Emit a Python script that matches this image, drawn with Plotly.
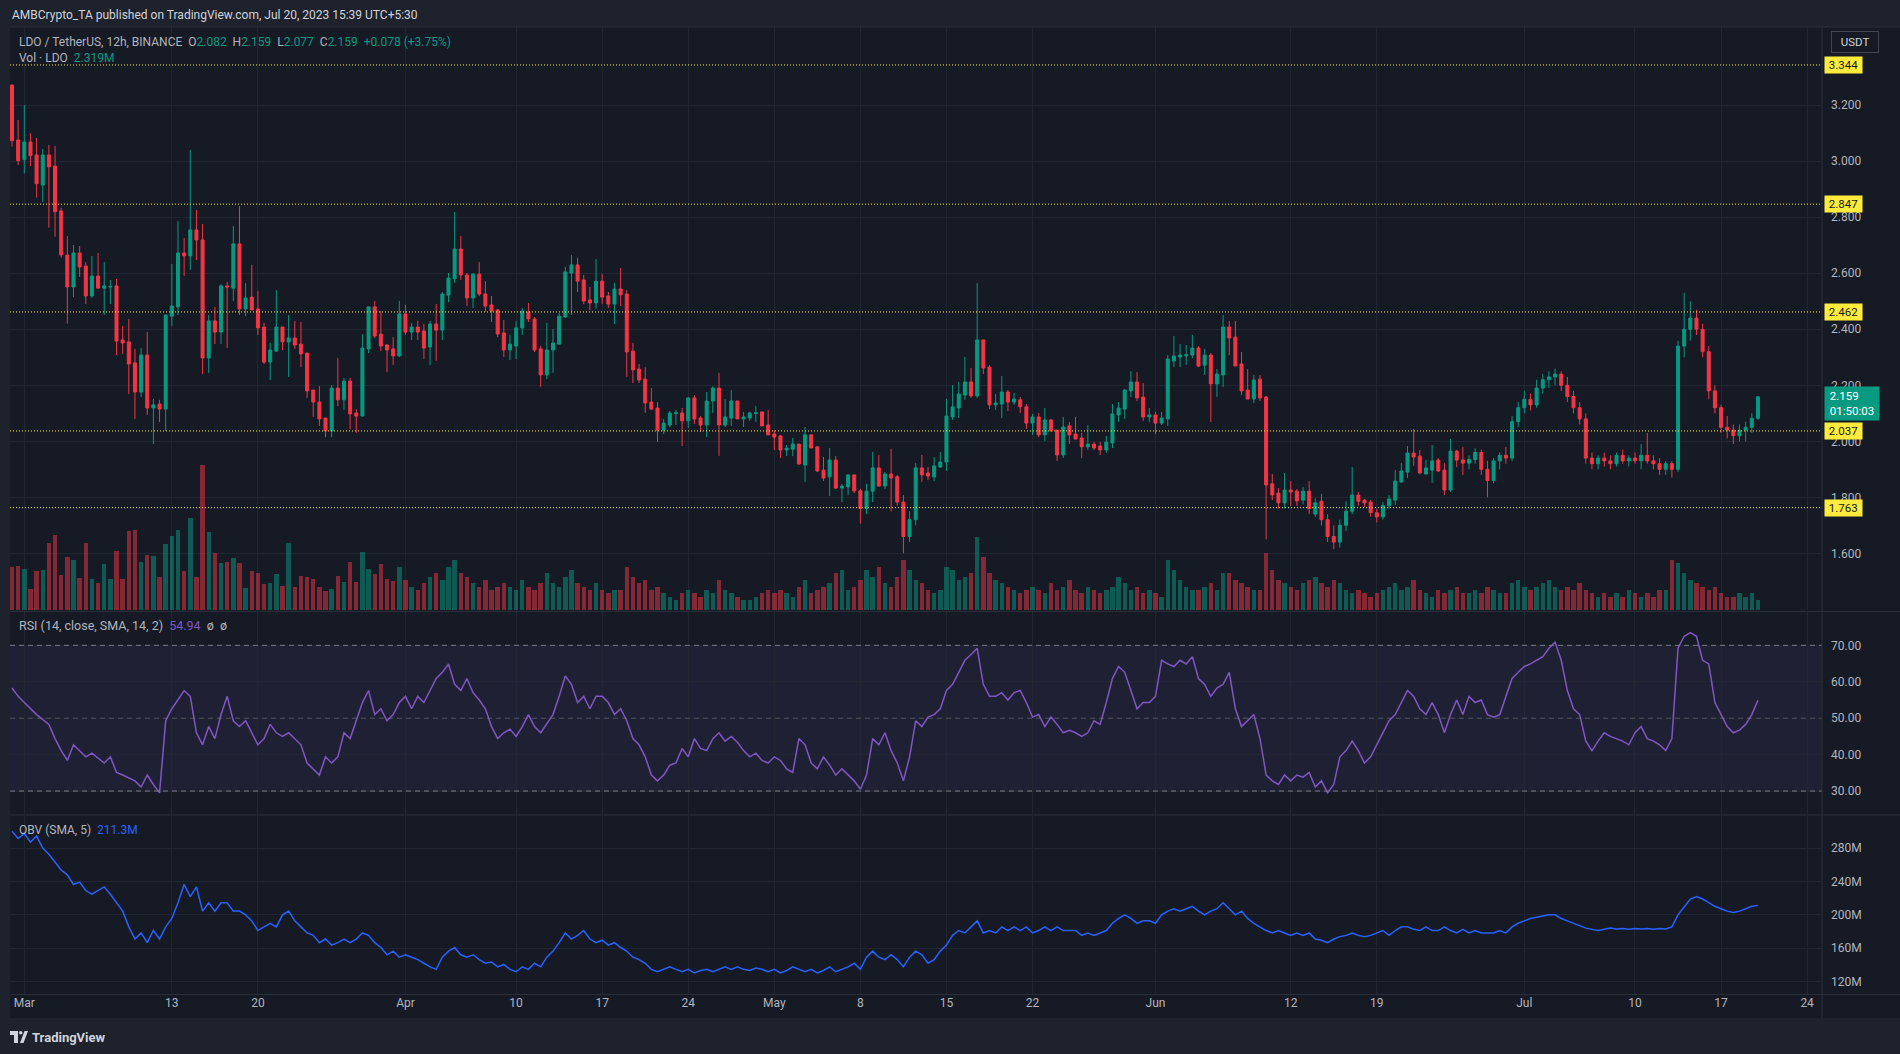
import plotly.graph_objects as go
import pandas as pd

W, H = 1900, 1054

# ---------------- DATA ----------------
times = pd.date_range("2023-02-28 00:00", periods=285, freq="12h")

open_ = [3.2725,3.076,3.006,3.069,3.0225,2.915,3.0225,2.983,2.8225,2.665,
2.551,2.6725,2.626,2.519,2.590,2.547,2.551,2.555,2.362,2.355,
2.280,2.176,2.308,2.119,2.133,2.115,2.447,2.480,2.6725,2.662,
2.755,2.719,2.2975,2.430,2.390,2.555,2.547,2.705,2.4725,2.515,
2.4725,2.408,2.283,2.322,2.408,2.355,2.369,2.347,2.315,2.183,
2.140,2.083,2.037,2.190,2.148,2.215,2.101,2.090,2.330,2.480,
2.383,2.344,2.330,2.305,2.455,2.390,2.408,2.394,2.337,2.419,
2.397,2.522,2.580,2.687,2.594,2.512,2.597,2.526,2.487,2.469,
2.387,2.326,2.340,2.405,2.462,2.437,2.330,2.237,2.326,2.347,
2.444,2.601,2.630,2.576,2.505,2.494,2.572,2.519,2.490,2.544,
2.526,2.322,2.258,2.222,2.140,2.119,2.040,2.058,2.099,2.101,
2.073,2.155,2.083,2.058,2.144,2.190,2.058,2.083,2.144,2.080,
2.083,2.099,2.105,2.058,2.026,2.019,1.969,1.972,1.990,1.915,
2.023,1.980,1.897,1.873,1.933,1.833,1.837,1.880,1.823,1.760,
1.822,1.905,1.840,1.883,1.873,1.783,1.66,1.72,1.905,1.887,
1.873,1.908,1.926,2.087,2.119,2.165,2.212,2.162,2.362,2.265,
2.130,2.133,2.176,2.140,2.148,2.123,2.065,2.087,2.023,2.076,
2.040,1.951,2.055,2.026,2.012,1.980,1.990,1.983,1.969,1.994,
2.094,2.115,2.180,2.212,2.158,2.087,2.094,2.065,2.080,2.287,
2.301,2.305,2.308,2.333,2.272,2.308,2.205,2.237,2.408,2.372,
2.276,2.183,2.151,2.222,2.158,1.848,1.815,1.780,1.826,1.822,
1.790,1.822,1.74,1.786,1.72,1.66,1.64,1.70,1.75,1.808,
1.790,1.783,1.745,1.73,1.77,1.790,1.855,1.890,1.958,1.947,
1.883,1.897,1.933,1.897,1.826,1.965,1.933,1.922,1.935,1.96,
1.90,1.86,1.93,1.95,1.94,2.07,2.12,2.15,2.13,2.19,
2.22,2.23,2.24,2.20,2.16,2.12,2.08,1.94,1.92,1.94,
1.93,1.92,1.95,1.93,1.94,1.93,1.95,1.93,1.92,1.90,
1.92,1.90,2.34,2.40,2.44,2.40,2.32,2.18,2.12,2.05,
2.04,2.02,2.04,2.05,2.082]

high = [3.2725,3.1475,3.201,3.101,3.083,3.044,3.058,3.055,2.834,2.733,
2.701,2.6975,2.640,2.662,2.6725,2.640,2.576,2.580,2.412,2.437,
2.330,2.333,2.390,2.151,2.148,2.451,2.633,2.787,2.726,3.040,
2.826,2.776,2.451,2.480,2.562,2.569,2.769,2.840,2.565,2.630,
2.537,2.423,2.351,2.540,2.408,2.451,2.430,2.426,2.315,2.183,
2.197,2.083,2.201,2.297,2.226,2.226,2.115,2.383,2.480,2.501,
2.465,2.347,2.372,2.501,2.487,2.423,2.430,2.419,2.430,2.490,
2.533,2.601,2.819,2.733,2.601,2.601,2.640,2.572,2.519,2.4725,
2.433,2.380,2.430,2.476,2.494,2.444,2.340,2.423,2.401,2.458,
2.623,2.665,2.655,2.594,2.551,2.651,2.597,2.533,2.565,2.619,
2.540,2.351,2.276,2.265,2.190,2.140,2.080,2.108,2.112,2.119,
2.158,2.165,2.090,2.176,2.197,2.244,2.151,2.183,2.144,2.105,
2.105,2.126,2.105,2.112,2.040,2.023,1.987,2.012,1.990,2.051,
2.023,1.983,1.944,1.976,1.947,1.848,1.880,1.880,1.830,1.848,
1.962,1.951,1.890,1.973,1.880,1.808,1.75,1.922,1.951,1.908,
1.944,1.962,2.151,2.201,2.212,2.301,2.262,2.565,2.362,2.272,
2.169,2.233,2.183,2.172,2.158,2.133,2.098,2.101,2.119,2.080,
2.040,2.087,2.069,2.087,2.030,2.058,1.997,1.997,2.019,2.133,
2.140,2.187,2.251,2.247,2.208,2.119,2.105,2.105,2.308,2.376,
2.347,2.344,2.380,2.340,2.330,2.315,2.258,2.451,2.430,2.430,
2.319,2.258,2.237,2.237,2.162,1.883,1.833,1.887,1.858,1.830,
1.837,1.858,1.797,1.812,1.74,1.70,1.72,1.786,1.908,1.819,
1.794,1.79,1.76,1.783,1.808,1.897,1.922,1.983,2.044,1.969,
1.933,1.987,1.940,1.922,2.008,1.969,1.980,1.95,1.975,1.97,
1.93,1.94,1.96,1.98,2.09,2.14,2.18,2.17,2.22,2.24,
2.25,2.26,2.25,2.23,2.18,2.14,2.10,1.96,1.95,1.96,
1.95,1.96,1.97,1.95,1.96,1.99,2.03,1.95,1.94,1.93,
1.93,2.36,2.53,2.50,2.47,2.42,2.34,2.20,2.13,2.09,
2.06,2.06,2.07,2.10,2.159]

low = [3.0523,2.9868,2.956,2.983,2.870,2.855,2.763,2.731,2.656,2.420,
2.515,2.587,2.490,2.512,2.547,2.451,2.490,2.308,2.312,2.169,
2.080,2.158,2.094,1.990,2.069,2.037,2.412,2.451,2.590,2.612,
2.647,2.240,2.244,2.347,2.347,2.333,2.501,2.451,2.447,2.469,
2.380,2.276,2.219,2.322,2.326,2.230,2.330,2.265,2.155,2.087,
2.055,2.015,2.015,2.126,2.112,2.044,2.030,2.090,2.315,2.369,
2.322,2.247,2.272,2.301,2.380,2.362,2.362,2.294,2.272,2.287,
2.362,2.497,2.565,2.576,2.483,2.476,2.519,2.462,2.426,2.372,
2.301,2.290,2.294,2.380,2.426,2.319,2.194,2.222,2.244,2.347,
2.440,2.451,2.533,2.490,2.469,2.473,2.490,2.476,2.419,2.483,
2.230,2.208,2.208,2.101,2.112,1.998,2.026,2.051,2.058,1.983,
2.048,2.062,2.033,2.015,2.101,1.948,2.051,2.055,2.080,2.051,
2.073,2.069,2.055,2.023,1.969,1.940,1.947,1.947,1.915,1.855,
1.976,1.890,1.858,1.805,1.830,1.783,1.808,1.815,1.706,1.74,
1.783,1.840,1.830,1.75,1.77,1.60,1.64,1.70,1.855,1.862,
1.858,1.905,1.894,2.076,2.083,2.148,2.155,2.155,2.240,2.115,
2.112,2.083,2.108,2.130,2.101,2.044,2.023,2.015,2.001,2.037,
1.930,1.940,1.990,2.008,1.940,1.969,1.969,1.951,1.958,1.976,
2.069,2.080,2.158,2.144,2.073,2.069,2.026,2.058,2.055,2.265,
2.265,2.273,2.297,2.265,2.237,2.069,2.158,2.194,2.308,2.269,
2.165,2.151,2.137,2.144,1.65,1.790,1.76,1.76,1.77,1.77,
1.775,1.74,1.73,1.70,1.64,1.615,1.62,1.68,1.74,1.77,
1.765,1.73,1.71,1.72,1.76,1.772,1.851,1.869,1.912,1.883,
1.883,1.851,1.890,1.808,1.819,1.908,1.880,1.90,1.92,1.88,
1.80,1.85,1.90,1.92,1.93,2.05,2.10,2.11,2.12,2.17,
2.19,2.20,2.18,2.14,2.10,2.06,1.92,1.90,1.90,1.91,
1.90,1.91,1.92,1.91,1.92,1.90,1.92,1.90,1.88,1.88,
1.87,1.89,2.30,2.36,2.38,2.30,2.15,2.10,2.03,2.01,
1.99,2.00,2.00,2.03,2.077]

close = [3.0737,3.0023,3.069,3.020,2.920,3.0225,2.980,2.820,2.6654,2.551,
2.6725,2.6225,2.519,2.590,2.547,2.555,2.553,2.358,2.351,2.276,
2.176,2.308,2.119,2.130,2.115,2.451,2.483,2.6725,2.662,2.755,
2.719,2.2975,2.430,2.390,2.555,2.551,2.705,2.4725,2.512,2.469,
2.405,2.283,2.326,2.408,2.355,2.369,2.344,2.312,2.180,2.140,
2.080,2.037,2.190,2.148,2.215,2.098,2.090,2.333,2.480,2.376,
2.340,2.326,2.305,2.455,2.390,2.408,2.390,2.333,2.419,2.397,
2.526,2.583,2.687,2.594,2.512,2.597,2.526,2.483,2.465,2.383,
2.326,2.347,2.405,2.465,2.437,2.326,2.237,2.326,2.351,2.447,
2.605,2.630,2.572,2.501,2.494,2.572,2.515,2.490,2.544,2.523,
2.319,2.255,2.219,2.137,2.115,2.040,2.065,2.101,2.102,2.073,
2.155,2.080,2.058,2.144,2.190,2.058,2.087,2.144,2.080,2.087,
2.101,2.102,2.055,2.023,2.015,1.969,1.976,1.990,1.919,2.023,
1.976,1.894,1.869,1.933,1.833,1.840,1.880,1.823,1.760,1.822,
1.905,1.840,1.883,1.869,1.783,1.66,1.72,1.905,1.880,1.876,
1.912,1.926,2.090,2.123,2.169,2.212,2.162,2.362,2.262,2.130,
2.137,2.176,2.140,2.151,2.123,2.065,2.087,2.023,2.076,2.037,
1.951,2.051,2.023,2.008,1.980,1.990,1.976,1.969,1.997,2.098,
2.119,2.183,2.212,2.155,2.087,2.094,2.065,2.083,2.294,2.305,
2.308,2.309,2.333,2.269,2.308,2.205,2.240,2.408,2.369,2.269,
2.180,2.151,2.219,2.155,1.844,1.808,1.780,1.826,1.819,1.787,
1.822,1.76,1.78,1.72,1.66,1.64,1.70,1.75,1.808,1.786,
1.780,1.745,1.73,1.77,1.794,1.858,1.894,1.958,1.944,1.887,
1.905,1.930,1.894,1.826,1.965,1.933,1.922,1.935,1.96,1.90,
1.86,1.93,1.95,1.94,2.07,2.12,2.15,2.13,2.19,2.22,
2.23,2.24,2.20,2.16,2.12,2.08,1.94,1.92,1.94,1.93,
1.92,1.95,1.93,1.94,1.93,1.95,1.93,1.92,1.90,1.92,
1.90,2.34,2.40,2.44,2.40,2.32,2.18,2.12,2.05,2.04,
2.02,2.04,2.05,2.082,2.159]

# volume in millions of LDO (approximate readings)
volume = [v * 0.09 for v in [
129,132,123,63,117,120,201,225,105,159,150,96,201,93,81,138,93,177,93,237,
240,144,165,162,99,198,222,240,117,276,99,435,234,171,141,144,156,141,66,117,
111,78,81,108,72,201,69,102,99,93,69,57,63,102,84,144,84,174,123,108,138,93,87,129,
90,70,60,80,100,110,90,130,150,110,
100,80,70,90,60,70,80,70,60,90,70,60,80,110,80,70,100,120,80,70,60,80,60,50,60,60,
130,100,80,90,60,70,50,40,30,50,60,50,40,60,50,90,60,50,40,30,30,40,50,60,50,60,50,40,70,90,50,
60,70,80,110,120,60,70,90,120,100,130,80,70,100,150,120,90,80,60,50,60,130,120,90,100,110,220,160,110,90,
80,70,60,50,60,70,60,50,80,60,70,90,60,50,70,60,50,60,70,100,80,60,70,50,60,50,40,150,120,90,70,60,60,70,80,60,110,110,90,80,70,60,60,170,
120,90,80,70,60,80,90,100,80,70,90,80,60,50,60,50,40,50,60,70,80,60,70,90,60,50,40,60,50,60,70,50,
50,60,50,70,60,50,50,80,90,70,60,70,80,90,70,60,70,60,80,60,50,40,50,40,50,40,60,50,40,50,
40,60,60,150,140,110,90,80,70,60,70,50,40,40,50,40,50,30]]

# RSI(14) per candle, None where not read
rsi = [58.3,56.0,54.3,None,51.0,None,48.3,44.4,41.1,38.4,
42.7,None,39.4,40.4,None,37.7,39.4,35.1,34.4,None,
32.8,31.1,34.4,31.8,29.5,49.3,52.6,None,57.6,56.0,
46.0,42.7,47.7,44.4,51.0,56.0,49.3,47.7,49.3,46.0,
42.7,44.4,48.3,46.0,45.0,46.0,None,42.7,37.7,None,
34.4,39.4,37.7,39.4,46.0,44.4,None,54.3,57.6,51.0,
52.6,49.3,51.0,54.3,56.0,52.6,56.0,54.3,57.6,60.9,
62.6,64.9,59.3,57.6,60.9,57.0,55.0,52.6,47.7,44.4,
46.0,47.0,45.0,47.7,51.0,47.7,46.0,None,51.0,56.0,
61.6,59.3,54.3,56.0,52.6,56.0,56.0,54.3,51.0,52.6,
49.3,44.4,42.7,39.4,34.4,32.8,34.4,37.1,37.7,41.7,
39.4,44.4,41.7,41.1,44.4,46.0,43.7,45.0,43.4,41.1,
39.4,40.4,38.4,37.7,39.4,38.4,36.1,35.1,44.4,42.7,
37.7,36.1,39.4,37.1,34.4,36.1,34.4,32.8,30.5,34.4,
44.4,42.7,46.0,41.1,37.7,32.8,39.4,49.3,47.7,50.3,
51.0,52.6,57.6,59.3,62.6,65.9,67.5,69.2,59.3,56.0,
56.0,57.0,55.0,57.0,57.6,54.3,50.3,51.0,47.7,50.3,
48.3,46.0,46.7,46.0,45.0,46.0,49.3,48.3,54.3,60.9,
64.2,62.6,57.6,52.6,54.3,54.3,56.0,65.9,64.9,64.2,
65.9,64.9,66.9,60.9,59.3,56.0,58.3,59.3,62.6,52.6,
47.7,49.3,51.0,44.4,34.4,32.8,31.8,34.4,32.8,34.4,
33.8,35.1,31.1,32.8,29.5,31.8,39.4,41.1,43.7,41.1,
37.7,39.4,42.7,46.0,49.3,51.0,54.3,57.6,56.0,52.6,
51.0,54.3,51.0,46.0,51.0,55.0,51.0,56.0,54.3,55.0,
51.0,50.3,51.0,56.0,60.9,62.6,64.2,64.9,65.9,66.9,
69.2,70.9,65.9,57.6,52.6,51.0,43.7,41.1,43.7,46.0,
45.0,44.4,43.7,42.7,46.0,47.7,44.4,43.7,42.7,41.1,
44.4,69.2,72.5,73.5,72.5,65.9,64.9,54.3,51.0,47.7,
46.0,46.7,48.3,51.0,54.94]

# OBV (SMA 5), millions
obv = [300.4,291.6,297.5,287.3,294.5,280.0,272.7,262.5,253.8,248.0,
236.4,239.3,229.1,224.7,229.1,233.5,224.7,214.5,204.4,185.5,
170.9,178.2,166.5,181.1,170.9,185.5,195.6,214.5,236.4,221.8,
233.5,204.4,214.5,204.4,214.5,214.5,204.4,204.4,200.0,192.7,
181.1,185.5,189.8,185.5,200.0,204.4,192.7,185.5,178.2,175.3,
166.5,170.9,163.6,166.5,170.9,166.5,170.9,178.2,175.3,166.5,
160.7,152.0,156.4,149.1,152.0,149.1,146.2,141.8,137.5,134.5,
149.1,156.4,160.7,152.0,149.1,152.0,146.2,141.8,143.3,137.5,
140.4,134.5,131.6,137.5,134.5,141.8,137.5,149.1,156.4,166.5,
178.2,170.9,175.3,181.1,170.9,166.5,169.5,163.6,166.5,160.7,
156.4,149.1,146.2,141.8,134.5,131.6,134.5,137.5,134.5,131.6,
134.5,130.2,133.1,134.5,131.6,134.5,137.5,134.5,137.5,134.5,
133.1,136.0,134.5,131.6,134.5,130.2,133.1,137.5,134.5,131.6,
134.5,130.2,133.1,137.5,131.6,134.5,137.5,141.8,134.5,149.1,
156.4,149.1,146.2,152.0,146.2,137.5,149.1,156.4,152.0,141.8,
146.2,156.4,163.6,175.3,181.1,178.2,185.5,192.7,178.2,181.1,
178.2,185.5,181.1,185.5,181.1,185.5,178.2,181.1,185.5,181.1,
185.5,181.1,181.1,181.1,175.3,178.2,175.3,178.2,181.1,189.8,
195.6,200.0,195.6,189.8,192.7,192.7,189.8,200.0,204.4,207.3,
204.4,207.3,210.2,204.4,200.0,204.4,207.3,214.5,207.3,200.0,
204.4,195.6,189.8,185.5,181.1,178.2,181.1,178.2,175.3,178.2,
175.3,178.2,170.9,169.5,166.5,170.9,173.8,175.3,178.2,175.3,
173.8,175.3,178.2,181.1,175.3,181.1,185.5,185.5,182.5,181.1,
185.5,181.1,181.1,185.5,181.1,178.2,182.5,178.2,181.1,178.2,
178.2,178.2,181.1,178.2,185.5,189.8,192.7,195.6,197.1,198.5,
200.0,200.0,195.6,192.7,189.8,186.9,184.0,182.5,181.1,182.5,
184.0,183.0,183.5,182.5,183.5,183.0,183.5,182.5,183.5,183.0,
185.5,200.0,210.2,218.9,221.8,218.9,214.5,210.2,207.3,204.4,
202.9,204.4,207.3,210.2,211.3]

levels = [3.344, 2.847, 2.462, 2.037, 1.763]
price_ticks = [1.6, 1.8, 2.0, 2.2, 2.4, 2.6, 2.8, 3.0, 3.2]
rsi_ticks = [30, 40, 50, 60, 70]
obv_ticks = [120, 160, 200, 240, 280]
date_ticks = ["2023-03-01","2023-03-13","2023-03-20","2023-04-01","2023-04-10","2023-04-17","2023-04-24",
              "2023-05-01","2023-05-08","2023-05-15","2023-05-22","2023-06-01","2023-06-12","2023-06-19",
              "2023-07-01","2023-07-10","2023-07-17","2023-07-24"]
date_labels = ["Mar","13","20","Apr","10","17","24","May","8","15","22","Jun","12","19","Jul","10","17","24"]

assert len(open_) == len(high) == len(low) == len(close) == len(volume) == len(times) == 285
assert len(rsi) == 285 and len(obv) == 285

# ---------------- STYLE ----------------
BG = "#161a25"
FRAME = "#1e222d"
GRID = "#222633"
SEP = "#2a2e39"
TXT = "#b2b5be"
UP = "#089981"
DN = "#f23645"
YEL = "#ffeb3b"
FONT = "Roboto"

def py(y):
    return 1 - y / H

def px(x):
    return x / W

XL, XR = px(10), px(1822)
xrange_ = ["2023-02-27 20:05", "2023-07-25 05:02"]

fig = go.Figure()

vol_colors = ["rgba(8,153,129,0.5)" if c >= o else "rgba(242,54,69,0.5)" for o, c in zip(open_, close)]
fig.add_trace(go.Bar(x=times, y=volume, marker=dict(color=vol_colors, line=dict(width=0)),
                     width=12 * 3600 * 1000 * 0.72, xaxis="x", yaxis="y", hoverinfo="skip"))

fig.add_trace(go.Candlestick(x=times, open=open_, high=high, low=low, close=close,
                             increasing=dict(line=dict(color=UP, width=1), fillcolor=UP),
                             decreasing=dict(line=dict(color=DN, width=1), fillcolor=DN),
                             whiskerwidth=0, xaxis="x", yaxis="y2", hoverinfo="skip"))

fig.add_trace(go.Scatter(x=times, y=rsi, mode="lines", connectgaps=True,
                         line=dict(color="#7e57c2", width=1.5), xaxis="x2", yaxis="y3", hoverinfo="skip"))

fig.add_trace(go.Scatter(x=times, y=obv, mode="lines",
                         line=dict(color="#2962ff", width=1.5), xaxis="x3", yaxis="y4", hoverinfo="skip"))

xcommon = dict(domain=[XL, XR], range=xrange_, type="date", tickvals=date_ticks, ticktext=date_labels,
               showgrid=True, gridcolor=GRID, gridwidth=1, zeroline=False, showline=False, ticks="",
               fixedrange=True)
ycommon = dict(side="right", anchor="free", position=XR, showgrid=True, gridcolor=GRID, gridwidth=1,
               zeroline=False, showline=False, ticks="", tickfont=dict(size=12, color=TXT, family=FONT),
               ticklabelstandoff=8, fixedrange=True)

fig.update_layout(
    width=W, height=H, margin=dict(l=0, r=0, t=0, b=0),
    paper_bgcolor=FRAME, plot_bgcolor="rgba(0,0,0,0)",
    showlegend=False, hovermode=False, bargap=0,
    font=dict(family=FONT, color=TXT, size=12),
    xaxis=dict(xcommon, anchor="y", showticklabels=False, rangeslider=dict(visible=False)),
    xaxis2=dict(xcommon, anchor="y3", showticklabels=False, matches="x"),
    xaxis3=dict(xcommon, anchor="y4", showticklabels=True, matches="x",
                tickfont=dict(size=12, color=TXT, family=FONT)),
    yaxis=dict(domain=[py(610), py(27)], range=[0, 157.4], visible=False, fixedrange=True),
    yaxis2=dict(ycommon, overlaying="y", range=[1.3975, 3.4796], tickvals=price_ticks,
                ticktext=[f"{v:.3f}" for v in price_ticks]),
    yaxis3=dict(ycommon, domain=[py(814), py(612)], range=[23.70, 79.16], tickvals=rsi_ticks,
                ticktext=[f"{v:.2f}" for v in rsi_ticks]),
    yaxis4=dict(ycommon, domain=[py(994), py(816)], range=[104.9, 318.6], tickvals=obv_ticks,
                ticktext=[f"{v}M" for v in obv_ticks]),
)

shapes = []
shapes.append(dict(type="rect", xref="paper", yref="paper", x0=XL, x1=1, y0=py(1018), y1=py(27),
                   fillcolor=BG, line=dict(width=0), layer="below"))
shapes.append(dict(type="rect", xref="x2 domain", yref="y3", x0=0, x1=1, y0=30, y1=70,
                   fillcolor="rgba(126,87,194,0.1)", line=dict(width=0), layer="below"))
for lv, col in [(70, "#787b86"), (50, "rgba(120,123,134,0.55)"), (30, "#787b86")]:
    shapes.append(dict(type="line", xref="x2 domain", yref="y3", x0=0, x1=1, y0=lv, y1=lv,
                       line=dict(color=col, width=1, dash="5px,4px")))
for lv in levels:
    shapes.append(dict(type="line", xref="x domain", yref="y2", x0=0, x1=1, y0=lv, y1=lv,
                       line=dict(color=YEL, width=1, dash="1px,2px")))
for yy in [611.5, 815.0, 994.5]:
    shapes.append(dict(type="line", xref="paper", yref="paper", x0=XL, x1=1, y0=py(yy), y1=py(yy),
                       line=dict(color=SEP, width=1)))
shapes.append(dict(type="line", xref="paper", yref="paper", x0=XR, x1=XR, y0=py(1018), y1=py(27),
                   line=dict(color=SEP, width=1)))
shapes.append(dict(type="line", xref="paper", yref="paper", x0=XL, x1=1, y0=py(27), y1=py(27),
                   line=dict(color=SEP, width=1)))
shapes.append(dict(type="rect", xref="paper", yref="paper", x0=px(10), x1=px(18), y0=py(1035), y1=py(1031),
                   fillcolor="#d1d4dc", line=dict(width=0)))
shapes.append(dict(type="rect", xref="paper", yref="paper", x0=px(14), x1=px(18), y0=py(1043), y1=py(1031),
                   fillcolor="#d1d4dc", line=dict(width=0)))
shapes.append(dict(type="circle", xref="paper", yref="paper", x0=px(19), x1=px(22.5), y0=py(1034.5), y1=py(1031),
                   fillcolor="#d1d4dc", line=dict(width=0)))
shapes.append(dict(type="path", xref="paper", yref="paper",
                   path=f"M {px(20)},{py(1043)} L {px(24.5)},{py(1031)} L {px(28)},{py(1031)} L {px(23.5)},{py(1043)} Z",
                   fillcolor="#d1d4dc", line=dict(width=0)))
fig.update_layout(shapes=shapes)

ann = []
NB = "\u00a0"
ann.append(dict(xref="paper", yref="paper", x=px(10), y=py(15), xanchor="left", yanchor="middle",
                text="AMBCrypto_TA published on TradingView.com, Jul 20, 2023 15:39 UTC+5:30",
                showarrow=False, font=dict(size=12, color="#d1d4dc", family=FONT)))
g = lambda s: f'<span style="color:{UP}">{s}</span>'
ann.append(dict(xref="paper", yref="paper", x=px(17), y=py(42), xanchor="left", yanchor="middle",
                text=("LDO / TetherUS, 12h, BINANCE" + NB*2 + "O" + g("2.082") + NB*2 + "H" + g("2.159") + NB*2 +
                      "L" + g("2.077") + NB*2 + "C" + g("2.159") + NB*2 + g("+0.078 (+3.75%)")),
                showarrow=False, font=dict(size=12, color="#b2b5be", family=FONT)))
ann.append(dict(xref="paper", yref="paper", x=px(17), y=py(58), xanchor="left", yanchor="middle",
                text="Vol · LDO" + NB*2 + g("2.319M"),
                showarrow=False, font=dict(size=12, color="#b2b5be", family=FONT)))
ann.append(dict(xref="paper", yref="paper", x=px(17), y=py(625), xanchor="left", yanchor="middle",
                text="RSI (14, close, SMA, 14, 2)" + NB*2 + '<span style="color:#7e57c2">54.94</span>' + NB*2 + "ø" + NB*2 + "ø",
                showarrow=False, font=dict(size=12.5, color="#b2b5be", family=FONT)))
ann.append(dict(xref="paper", yref="paper", x=px(17), y=py(830), xanchor="left", yanchor="middle",
                text="OBV (SMA, 5)" + NB*2 + '<span style="color:#2962ff">211.3M</span>',
                showarrow=False, font=dict(size=12, color="#b2b5be", family=FONT)))
for lv in levels:
    ann.append(dict(xref="paper", yref="y2", x=XR + px(2), y=lv, xanchor="left", yanchor="middle",
                    text=NB + f"{lv:.3f}" + NB, showarrow=False, bgcolor=YEL, borderpad=1,
                    font=dict(size=11.5, color="#131722", family=FONT)))
ann.append(dict(xref="paper", yref="y2", x=XR + px(2), y=close[-1], xanchor="left", yanchor="middle",
                yshift=-7, text=NB + f"{close[-1]:.3f}" + NB + "<br>" + NB + "01:50:03" + NB,
                showarrow=False, bgcolor=UP, borderpad=2, align="left",
                font=dict(size=11.5, color="#ffffff", family=FONT)))
ann.append(dict(xref="paper", yref="paper", x=px(1855), y=py(42), xanchor="center", yanchor="middle",
                text=NB*2 + "USDT" + NB*2, showarrow=False, bordercolor="#434651", borderwidth=1, borderpad=3,
                bgcolor=BG, font=dict(size=11.5, color="#d1d4dc", family=FONT)))
ann.append(dict(xref="paper", yref="paper", x=px(30), y=py(1037), xanchor="left", yanchor="middle",
                text="<b>TradingView</b>", showarrow=False, font=dict(size=13, color="#d1d4dc", family=FONT)))
fig.update_layout(annotations=ann)

fig.write_html("out.html", config={"displayModeBar": False},
               post_script="document.body.style.margin='0';document.body.style.padding='0';"
                           "document.body.style.background='#1e222d';")
